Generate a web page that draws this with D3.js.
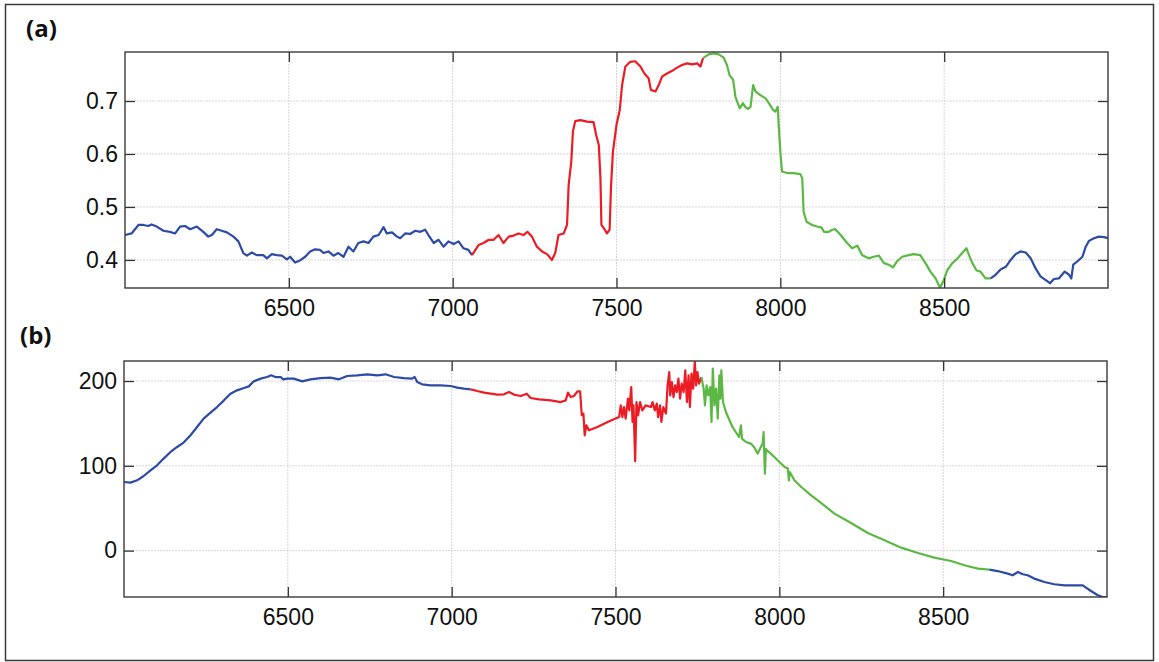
<!DOCTYPE html>
<html>
<head>
<meta charset="utf-8">
<script src="https://cdn.jsdelivr.net/npm/d3@7"></script>
<style>
  body { margin: 0; background: #fff; }
  svg text { font-family: "Liberation Sans", Arial, sans-serif; }
</style>
</head>
<body>
<svg id="chart" width="1159" height="662"></svg>
<script>
// --- Data ---
const xTicks = [6500, 7000, 7500, 8000, 8500];
const topYTicks = [0.4, 0.5, 0.6, 0.7];
const botYTicks = [0, 100, 200];

// panel (a)
const topBlue1 = [[6000,.447],[6020,.450],[6041,.466],[6056,.466],[6071,.464],[6081,.467],[6097,.463],[6117,.455],[6137,.453],[6153,.450],[6168,.463],[6183,.464],[6199,.458],[6219,.463],[6239,.453],[6254,.444],[6265,.447],[6280,.458],[6295,.455],[6311,.452],[6331,.444],[6346,.435],[6361,.413],[6372,.408],[6387,.414],[6402,.409],[6422,.409],[6433,.403],[6448,.411],[6463,.409],[6479,.408],[6494,.401],[6504,.406],[6519,.395],[6534,.399],[6550,.406],[6565,.416],[6580,.420],[6595,.419],[6606,.413],[6621,.416],[6636,.408],[6651,.413],[6667,.406],[6682,.425],[6697,.416],[6712,.432],[6728,.435],[6743,.432],[6758,.444],[6774,.447],[6789,.462],[6799,.450],[6815,.452],[6830,.444],[6840,.441],[6855,.450],[6870,.449],[6886,.455],[6901,.453],[6916,.457],[6926,.447],[6942,.432],[6957,.438],[6972,.425],[6987,.435],[7003,.430],[7018,.435],[7033,.422],[7048,.419],[7059,.409]];
const topRed = [[7059,.409],[7079,.428],[7094,.432],[7110,.438],[7125,.438],[7140,.447],[7155,.432],[7171,.444],[7186,.446],[7201,.450],[7216,.447],[7228,.453],[7242,.444],[7257,.425],[7273,.416],[7288,.411],[7303,.400],[7313,.413],[7323,.447],[7339,.450],[7349,.466],[7354,.542],[7362,.585],[7367,.642],[7374,.662],[7390,.664],[7410,.661],[7430,.660],[7438,.636],[7446,.617],[7451,.554],[7454,.466],[7461,.460],[7471,.450],[7479,.457],[7483,.535],[7489,.604],[7500,.655],[7510,.683],[7517,.730],[7527,.765],[7542,.774],[7557,.775],[7573,.765],[7585,.752],[7598,.743],[7605,.721],[7619,.718],[7629,.730],[7639,.746],[7654,.752],[7670,.757],[7685,.763],[7700,.768],[7715,.771],[7731,.769],[7746,.771],[7756,.765],[7764,.781]];
const topGreen = [[7764,.781],[7781,.788],[7797,.790],[7812,.788],[7827,.782],[7837,.768],[7845,.749],[7856,.740],[7863,.708],[7876,.686],[7886,.696],[7893,.689],[7901,.685],[7909,.689],[7917,.730],[7924,.718],[7939,.711],[7955,.705],[7965,.696],[7978,.683],[7985,.680],[7992,.689],[7995,.655],[8000,.604],[8005,.567],[8021,.564],[8041,.564],[8061,.562],[8067,.554],[8071,.491],[8080,.472],[8097,.466],[8112,.463],[8126,.461],[8133,.453],[8148,.453],[8158,.457],[8168,.458],[8184,.447],[8204,.432],[8219,.422],[8235,.427],[8250,.409],[8270,.403],[8285,.406],[8301,.408],[8316,.394],[8331,.391],[8344,.386],[8357,.398],[8372,.406],[8392,.409],[8407,.411],[8427,.409],[8443,.394],[8458,.378],[8474,.365],[8487,.348],[8497,.359],[8510,.381],[8525,.394],[8541,.403],[8555,.413],[8568,.422],[8576,.409],[8586,.394],[8599,.380],[8611,.378],[8626,.365],[8642,.365]];
const topBlue2 = [[8642,.365],[8657,.372],[8672,.382],[8688,.387],[8703,.400],[8718,.411],[8733,.416],[8749,.414],[8764,.403],[8779,.384],[8794,.369],[8810,.362],[8823,.356],[8835,.364],[8850,.365],[8868,.378],[8881,.372],[8888,.365],[8894,.391],[8906,.397],[8922,.406],[8932,.425],[8942,.436],[8957,.441],[8972,.444],[8988,.443],[9000,.441]];

// panel (b)
const botBlue1 = [[6000,80.9],[6020,80.2],[6040,82.9],[6060,88.0],[6081,94.7],[6101,100.6],[6121,108.5],[6142,116.3],[6162,122.2],[6182,127.4],[6203,136.0],[6223,145.8],[6243,155.7],[6264,162.7],[6284,169.3],[6305,177.2],[6325,185.1],[6345,189.0],[6366,191.7],[6381,193.7],[6396,199.6],[6417,202.8],[6437,204.7],[6449,206.7],[6462,204.7],[6478,204.7],[6485,202.0],[6498,202.8],[6518,202.8],[6544,199.6],[6569,202.0],[6600,203.5],[6630,204.0],[6656,202.0],[6681,205.9],[6712,206.7],[6742,207.9],[6773,206.7],[6798,207.9],[6824,204.7],[6854,203.5],[6879,202.8],[6887,204.7],[6895,198.8],[6910,196.1],[6936,194.9],[6966,194.9],[6997,194.1],[7017,192.2],[7037,191.0],[7058,190.2]];
const botRed = [[7058,190.2],[7078,188.2],[7099,186.3],[7119,185.1],[7140,184.0],[7160,184.3],[7175,187.0],[7190,184.0],[7211,182.3],[7229,185.1],[7241,180.0],[7267,178.4],[7302,177.2],[7333,175.2],[7348,177.2],[7355,186.3],[7363,181.1],[7373,182.3],[7384,187.8],[7392,187.8],[7397,159.6],[7402,161.6],[7406,136],[7411,147.8],[7419,141.9],[7445,145.8],[7476,151.7],[7511,157.5],[7516,171.3],[7521,157.5],[7526,169.3],[7531,155.7],[7538,179.2],[7542,165.4],[7548,192.9],[7552,151.7],[7555,171.3],[7560,105.3],[7564,175.2],[7569,159.6],[7575,175.2],[7582,165.4],[7592,171.3],[7608,169.3],[7613,175.2],[7620,165.4],[7626,173.3],[7630,157.5],[7636,171.3],[7640,151.7],[7646,169.3],[7654,161.6],[7659,194.9],[7664,210.6],[7667,183.1],[7672,198.8],[7677,181.1],[7682,194.9],[7687,187.0],[7692,202.8],[7697,179.2],[7702,196.9],[7708,187.0],[7713,212.6],[7718,175.2],[7723,206.7],[7727,169.3],[7732,208.7],[7737,191.0],[7742,223],[7746,194.9],[7750,210.6],[7755,196.9],[7762,204.7]];
const botGreen = [[7762,204.7],[7769,191.0],[7773,171.3],[7778,194.9],[7783,183.1],[7789,192.9],[7793,151.7],[7797,214.6],[7802,171.3],[7807,191.0],[7812,155.7],[7817,206.7],[7820,179.2],[7823,212.6],[7828,175.2],[7837,163.4],[7848,153.7],[7857,145.8],[7867,139.9],[7877,134.0],[7883,147.8],[7886,132.1],[7898,128.1],[7913,126.2],[7923,122.2],[7934,114.4],[7946,124.2],[7949,126],[7952,139.9],[7955,100.6],[7956,90.8],[7959,120],[7962,118.3],[7974,114.4],[7995,106.5],[8016,98.6],[8026,96.7],[8029,82.9],[8032,92.7],[8046,82.9],[8067,75.0],[8097,65.2],[8128,56.1],[8168,43.6],[8219,32.5],[8270,20.8],[8321,12.1],[8372,3.5],[8423,-2.8],[8473,-8.3],[8524,-12.3],[8565,-17.3],[8606,-21.2],[8641,-22.4]];
const botBlue2 = [[8641,-22.4],[8666,-24.1],[8697,-27.1],[8712,-29.1],[8728,-25.2],[8743,-27.9],[8758,-29.1],[8778,-33.0],[8809,-37.0],[8839,-39.7],[8870,-40.9],[8900,-40.9],[8926,-40.9],[8936,-43.6],[8951,-47.6],[8972,-52.7],[8987,-54.7],[9000,-54.7]];

const BLUE = "#2c4aa6", RED = "#ec1c24", GREEN = "#5cb845";

const svg = d3.select("#chart");
svg.append("rect")
  .attr("x", 5.5).attr("y", 4.5).attr("width", 1148).attr("height", 656)
  .attr("fill", "#fff").attr("stroke", "#3a3a3a").attr("stroke-width", 1.5);

// --- Panel builder ---
function drawPanel(cfg) {
  const w = 983, h = 236;
  const g = svg.append("g").attr("transform", `translate(${cfg.left},${cfg.top})`);
  const x = d3.scaleLinear().domain([6000, 9000]).range([0, w]);
  const y = d3.scaleLinear().domain(cfg.yDomain).range([h, 0]);

  // grid
  g.selectAll(".vgrid").data(xTicks).join("line")
    .attr("x1", d => x(d)).attr("x2", d => x(d)).attr("y1", 0).attr("y2", h)
    .attr("stroke", "#d6d6d6").attr("stroke-width", 1).attr("stroke-dasharray", "2,1");
  g.selectAll(".hgrid").data(cfg.yTicks).join("line")
    .attr("x1", 0).attr("x2", w).attr("y1", d => y(d)).attr("y2", d => y(d))
    .attr("stroke", "#d6d6d6").attr("stroke-width", 1).attr("stroke-dasharray", "2,1");

  // lines
  const clipId = "clip-" + cfg.name;
  g.append("clipPath").attr("id", clipId)
    .append("rect").attr("width", w).attr("height", h);
  const line = d3.line().x(d => x(d[0])).y(d => y(d[1]));
  cfg.series.forEach(s => {
    g.append("path").datum(s.data)
      .attr("clip-path", `url(#${clipId})`)
      .attr("d", line)
      .attr("fill", "none")
      .attr("stroke", s.color)
      .attr("stroke-width", 2.2)
      .attr("stroke-linejoin", "round");
  });

  // axes (ticks inward, MATLAB style)
  const axB = g.append("g").attr("transform", `translate(0,${h})`)
    .call(d3.axisBottom(x).tickValues(xTicks).tickSize(-10).tickPadding(12).tickFormat(d3.format("d")));
  const axT = g.append("g")
    .call(d3.axisTop(x).tickValues(xTicks).tickSize(-10).tickFormat(""));
  const axL = g.append("g")
    .call(d3.axisLeft(y).tickValues(cfg.yTicks).tickSize(-10).tickPadding(7).tickFormat(cfg.fmt));
  const axR = g.append("g").attr("transform", `translate(${w},0)`)
    .call(d3.axisRight(y).tickValues(cfg.yTicks).tickSize(-10).tickFormat(""));
  [axB, axT, axL, axR].forEach(a => {
    a.select(".domain").remove();
    a.selectAll(".tick line").attr("stroke", "#333").attr("stroke-width", 1.3);
    a.selectAll(".tick text").attr("fill", "#111").style("font-size", "23px");
  });

  g.append("rect").attr("width", w).attr("height", h)
    .attr("fill", "none").attr("stroke", "#3a3a3a").attr("stroke-width", 1.4);

  svg.append("text")
    .attr("x", cfg.labelX).attr("y", cfg.labelY)
    .style("font-family", "'Open Sans', sans-serif")
    .style("font-weight", "bold").style("font-size", "24px")
    .attr("fill", "#111")
    .text(cfg.label);
}

drawPanel({
  name: "a", left: 125, top: 52, yDomain: [0.347, 0.7925], yTicks: topYTicks,
  fmt: d3.format(".1f"), label: "(a)", labelX: 26, labelY: 37,
  series: [
    { data: topBlue1, color: BLUE }, { data: topRed, color: RED },
    { data: topGreen, color: GREEN }, { data: topBlue2, color: BLUE }
  ]
});

drawPanel({
  name: "b", left: 124, top: 361, yDomain: [-54.7, 223.6], yTicks: botYTicks,
  fmt: d3.format("d"), label: "(b)", labelX: 20, labelY: 344,
  series: [
    { data: botBlue1, color: BLUE }, { data: botRed, color: RED },
    { data: botGreen, color: GREEN }, { data: botBlue2, color: BLUE }
  ]
});
</script>
</body>
</html>
